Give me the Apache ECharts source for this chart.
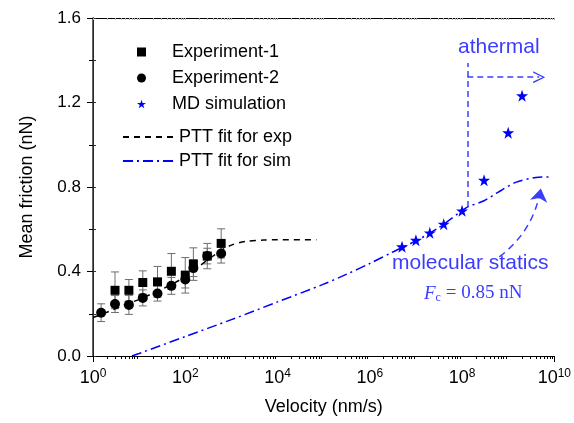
<!DOCTYPE html>
<html>
<head>
<meta charset="utf-8">
<script src="https://cdn.jsdelivr.net/npm/echarts@6/dist/echarts.min.js"></script>
<style>
html,body{margin:0;padding:0;background:#fff;}
#c{width:574px;height:423px;}
</style>
</head>
<body>
<div id="c"></div>
<script>
// ---------- data ----------
const exp1V = [3, 6, 12, 25, 50, 100, 150, 300, 600];
const exp1F = [0.311, 0.311, 0.348, 0.351, 0.401, 0.382, 0.435, 0.473, 0.533];
const exp1Err = [0.087, 0.051, 0.055, 0.073, 0.084, 0.084, 0.077, 0.060, 0.069];

const exp2V = [1.5, 3, 6, 12, 25, 50, 100, 150, 300, 600];
const exp2F = [0.205, 0.246, 0.242, 0.275, 0.296, 0.332, 0.362, 0.416, 0.473, 0.485];
const exp2Err = [0.042, 0.040, 0.045, 0.038, 0.036, 0.040, 0.040, 0.040, 0.037, 0.045];

const mdV = [5e6, 1e7, 2e7, 4e7, 1e8, 3e8, 1e9, 2e9];
const mdF = [0.517, 0.548, 0.583, 0.624, 0.687, 0.832, 1.057, 1.232];

const expFitV = [1, 2, 5, 10, 20, 50, 100, 200, 500, 1000, 2000, 5000, 1e4, 7e4];
const expFitF = [0.182, 0.207, 0.243, 0.268, 0.297, 0.338, 0.376, 0.425, 0.488, 0.525, 0.542, 0.549, 0.55, 0.55];

const simFitV = [7, 10, 100, 1e3, 1e4, 1e5, 3e5, 1e6, 3e6, 1e7, 3e7, 1e8, 1.3e8, 3e8, 6e8, 1.5e9, 4e9, 8.5e9];
const simFitF = [0, 0.012, 0.092, 0.172, 0.256, 0.34, 0.385, 0.438, 0.49, 0.545, 0.605, 0.688, 0.705, 0.735, 0.775, 0.823, 0.845, 0.848];

const xLabelTicks = [1, 100, 1e4, 1e6, 1e8, 1e10];

// annotation anchors (data coordinates)
const athermalLine = [[1.3e8, 0.705], [1.3e8, 1.387]];
const athermalArrow = [[1.3e8, 1.32], [4.7e9, 1.32]];
const staticsArrow = [[6.4e8, 0.469], [5.1e9, 0.793]];

// ---------- helpers ----------
// minor tick positions (in decades) for the decorative tick-only axes
const xMinorExp = [];
for (let d = 0; d < 10; d++) for (let k = 2; k <= 9; k++) xMinorExp.push(d + Math.log10(k));
const xMajorExp = [0, 1, 2, 3, 4, 5, 6, 7, 8, 9, 10];
const FONT = '"Liberation Sans", Arial, sans-serif';
const ANN = '#3c3cff';
const star = 'path://M50,0 L61.8,35.1 L98.8,35.1 L68.9,56.8 L80.3,91.9 L50,70.2 L19.7,91.9 L31.1,56.8 L1.2,35.1 L38.2,35.1 Z';
const chevron = 'path://M5,0 L10,12 L8.7,12 L5,2.6 L1.3,12 L0,12 Z';

function zip(a, b) { return a.map((v, i) => [v, b[i]]); }
function zip3(a, b, c) { return a.map((v, i) => [v, b[i], c[i]]); }

function errRender(params, api) {
  const x = api.value(0), y = api.value(1), e = api.value(2);
  const t = api.coord([x, y + e]);
  const b = api.coord([x, y - e]);
  const w = 4;
  const st = { stroke: '#6e6e6e', lineWidth: 1 };
  return { type: 'group', children: [
    { type: 'line', shape: { x1: t[0], y1: t[1], x2: b[0], y2: b[1] }, style: st },
    { type: 'line', shape: { x1: t[0] - w, y1: t[1], x2: t[0] + w, y2: t[1] }, style: st },
    { type: 'line', shape: { x1: b[0] - w, y1: b[1], x2: b[0] + w, y2: b[1] }, style: st }
  ]};
}

const chart = echarts.init(document.getElementById('c'), null, { renderer: 'canvas' });

const option = {
  animation: false,
  backgroundColor: '#fff',
  textStyle: { fontFamily: FONT },
  grid: { left: 93, right: 19, top: 18, bottom: 67, containLabel: false },
  legend: [
    {
      data: ['Experiment-1', 'Experiment-2', 'MD simulation'],
      orient: 'vertical', left: 132, top: 37,
      itemWidth: 9, itemHeight: 9, itemGap: 6,
      textStyle: { fontSize: 18, color: '#000', fontFamily: FONT, lineHeight: 20, padding: [0, 0, 0, 21] },
      selectedMode: false
    },
    {
      data: ['PTT fit for exp', 'PTT fit for sim'],
      orient: 'vertical', left: 117, top: 122,
      itemWidth: 50, itemHeight: 10, itemGap: 4,
      itemStyle: { opacity: 0 },
      textStyle: { fontSize: 18, color: '#000', fontFamily: FONT, lineHeight: 20, padding: [0, 0, 0, 1] },
      selectedMode: false
    }
  ],
  xAxis: [
    {
      type: 'log', logBase: 10, min: 1, max: 1e10, gridIndex: 0,
      axisLine: { show: true, lineStyle: { color: '#000', width: 1 } },
      axisTick: { show: true, inside: false, length: 6, lineStyle: { color: '#000' } },
      axisLabel: {
        show: true, customValues: xLabelTicks, margin: 12,
        formatter: function (v) { return '{b|10}{s|' + Math.round(Math.log10(v)) + '}'; },
        rich: {
          b: { fontSize: 18, color: '#000', fontFamily: FONT },
          s: { fontSize: 12, color: '#000', fontFamily: FONT, verticalAlign: 'bottom', padding: [0, 0, 9, 0] }
        }
      },
      splitLine: { show: false },
      name: 'Velocity (nm/s)', nameLocation: 'middle', nameGap: 42,
      nameTextStyle: { fontSize: 18, color: '#000', fontFamily: FONT }
    },
    {
      // decorative minor ticks along the bottom (decade units)
      type: 'value', min: 0, max: 10, gridIndex: 0, position: 'bottom', offset: 0,
      axisLine: { show: false },
      axisTick: { show: true, inside: false, length: 3, customValues: xMinorExp, lineStyle: { color: '#000' } },
      axisLabel: { show: false },
      splitLine: { show: false }
    },
    {
      // top frame with faint inward ticks
      type: 'value', min: 0, max: 10, gridIndex: 0, position: 'top',
      axisLine: { show: true, lineStyle: { color: '#000', width: 1 } },
      axisTick: { show: true, inside: true, length: 2, customValues: xMinorExp.concat(xMajorExp), lineStyle: { color: '#aaa' } },
      axisLabel: { show: false },
      splitLine: { show: false }
    }
  ],
  yAxis: [
    {
      type: 'value', min: 0, max: 1.6, interval: 0.4,
      axisLine: { show: true, lineStyle: { color: '#000', width: 1 } },
      axisTick: { show: true, inside: false, length: 6, lineStyle: { color: '#000' } },
      minorTick: { show: true, splitNumber: 2, length: 4, lineStyle: { color: '#000' } },
      axisLabel: { formatter: v => v.toFixed(1), fontSize: 17, color: '#000', margin: 12, fontFamily: FONT },
      splitLine: { show: false },
      name: 'Mean friction (nN)', nameLocation: 'middle', nameGap: 57, nameRotate: 90,
      nameTextStyle: { fontSize: 18, color: '#000', fontFamily: FONT }
    },
    {
      type: 'value', min: 0, max: 1.6, interval: 0.2, position: 'right',
      axisLine: { show: true, lineStyle: { color: '#333', width: 1.5 } },
      axisTick: { show: true, inside: false, length: 3, lineStyle: { color: '#333' } },
      axisLabel: { show: false },
      splitLine: { show: false }
    }
  ],
  series: [
    {
      name: 'err1', type: 'custom', renderItem: errRender, data: zip3(exp1V, exp1F, exp1Err),
      encode: { x: 0, y: 1 }, z: 1, silent: true
    },
    {
      name: 'err2', type: 'custom', renderItem: errRender, data: zip3(exp2V, exp2F, exp2Err),
      encode: { x: 0, y: 1 }, z: 1, silent: true
    },
    {
      name: 'PTT fit for exp', type: 'line', data: zip(expFitV, expFitF), smooth: 0.3,
      symbol: 'none', showSymbol: false, lineStyle: { color: '#000', width: 1.5, type: [6, 5] }, itemStyle: { color: '#000' }, z: 2
    },
    {
      name: 'PTT fit for sim', type: 'line', data: zip(simFitV, simFitF), smooth: 0.3,
      symbol: 'none', showSymbol: false, lineStyle: { color: '#0000ff', width: 1.5, type: [10, 4, 2, 4] }, itemStyle: { color: '#0000ff' }, z: 2
    },
    {
      name: 'Experiment-1', type: 'scatter', data: zip(exp1V, exp1F), symbol: 'rect', symbolSize: 9,
      itemStyle: { color: '#000', opacity: 1 }, z: 3
    },
    {
      name: 'Experiment-2', type: 'scatter', data: zip(exp2V, exp2F), symbol: 'circle', symbolSize: 10,
      itemStyle: { color: '#000', opacity: 1 }, z: 3
    },
    {
      name: 'MD simulation', type: 'scatter', data: zip(mdV, mdF), symbol: star, symbolSize: 12,
      itemStyle: { color: '#0000ff', opacity: 1 }, z: 3
    },
    {
      name: 'annLines', type: 'lines', coordinateSystem: 'cartesian2d', silent: true, z: 4,
      data: [
        { coords: athermalLine, symbol: ['none', 'none'] },
        { coords: athermalArrow, symbol: ['none', chevron], symbolSize: [10, 12] }
      ],
      lineStyle: { color: ANN, width: 1.5, type: [6, 4], opacity: 1 }
    },
    {
      name: 'annCurve', type: 'lines', coordinateSystem: 'cartesian2d', silent: true, z: 4,
      data: [ { coords: staticsArrow } ],
      symbol: ['none', 'arrow'], symbolSize: [7, 13],
      lineStyle: { color: ANN, width: 1.5, type: [7, 5], curveness: -0.2, opacity: 1 }
    }
  ],
  graphic: [
    { type: 'text', left: 458, top: 37, style: { text: 'athermal', fill: ANN, font: '21px ' + FONT } },
    { type: 'text', left: 392, top: 253, style: { text: 'molecular statics', fill: ANN, font: '21px ' + FONT } },
    {
      type: 'text', left: 424, top: 284,
      style: {
        text: '{f|F}{c|c}{r| = 0.85 nN}', fill: ANN,
        rich: {
          f: { fontFamily: '"Liberation Serif", "Times New Roman", serif', fontStyle: 'italic', fontSize: 19, fill: ANN },
          c: { fontFamily: '"Liberation Serif", "Times New Roman", serif', fontSize: 12, fill: ANN, verticalAlign: 'top', padding: [9, 0, 0, 0] },
          r: { fontFamily: '"Liberation Serif", "Times New Roman", serif', fontSize: 19, fill: ANN }
        }
      }
    }
  ]
};
chart.setOption(option);
</script>
</body>
</html>
